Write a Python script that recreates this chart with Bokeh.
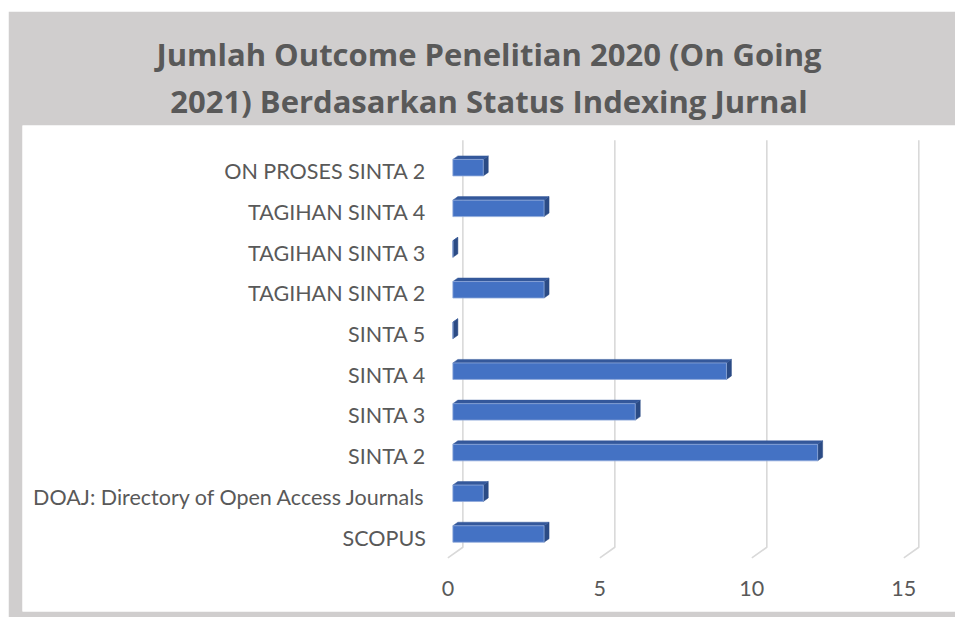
from bokeh.plotting import figure
from bokeh.models import Range1d, Title, ColumnDataSource
from bokeh.core.properties import value
from bokeh.embed import file_html
from bokeh.resources import INLINE

# ---- data ----
CATEGORIES = ["SCOPUS", "DOAJ: Directory of Open Access Journals", "SINTA 2", "SINTA 3",
              "SINTA 4", "SINTA 5", "TAGIHAN SINTA 2", "TAGIHAN SINTA 3",
              "TAGIHAN SINTA 4", "ON PROSES SINTA 2"]
VALUES = [3, 1, 12, 6, 9, 0, 3, 0, 3, 1]
X_TICKS = [0, 5, 10, 15]
TITLE_LINE1 = "Jumlah Outcome Penelitian 2020 (On Going"
TITLE_LINE2 = "2021) Berdasarkan Status Indexing Jurnal"

# ---- style ----
FONT = "Lato"
TITLE_FONT = "Open Sans"
TEXT_COLOR = "#595959"
PANEL_GRAY = "#d0cece"
GRID_COLOR = "#d9d9d9"
FRONT = "#4472c4"
TOPC = "#34589b"
SIDE = "#2b4b85"
DX = 0.493   # depth of the 3D box, value units
DY = 0.26    # depth of the 3D box, category units
H = 0.405    # bar thickness, category units

p = figure(width=947, height=606, margin=(11, 0, 0, 8), title=None,
           output_backend="svg", toolbar_location=None,
           x_axis_location=None, y_axis_location=None,
           x_range=Range1d(-13.994, 16.70), y_range=Range1d(-1.818, 10.123),
           min_border_left=14, min_border_right=0, min_border_top=114, min_border_bottom=6)
p.background_fill_color = "white"
p.border_fill_color = PANEL_GRAY
p.outline_line_color = None
p.xgrid.visible = False
p.ygrid.visible = False

t2 = Title(text=TITLE_LINE2, align="center", text_font=TITLE_FONT, text_font_size="31px",
           text_font_style="bold", text_color=TEXT_COLOR, standoff=7)
p.add_layout(t2, "above")
t1 = Title(text=TITLE_LINE1, align="center", text_font=TITLE_FONT, text_font_size="31px",
           text_font_style="bold", text_color=TEXT_COLOR, standoff=0)
p.add_layout(t1, "above")

# 3D gridlines (back wall + floor diagonal)
top_y = len(CATEGORIES) - 0.5
gxs = [[t + DX, t + DX, t] for t in X_TICKS]
gys = [[top_y + DY, -0.5 + DY, -0.5] for t in X_TICKS]
p.multi_line(xs=gxs, ys=gys, line_color=GRID_COLOR, line_width=1.6)

# bars
idx = list(range(len(CATEGORIES)))
l0 = DX / 3
ox, oy = DX / 3, DY / 3
fl, fr, fb, ft = [], [], [], []
top_xs, top_ys, side_xs, side_ys = [], [], [], []
for i, v in zip(idx, VALUES):
    left = l0
    right = l0 + v
    bottom = i + oy - H / 2
    top = i + oy + H / 2
    fl.append(left); fr.append(right); fb.append(bottom); ft.append(top)
    top_xs.append([left, right, right + ox, left + ox])
    top_ys.append([top, top, top + oy, top + oy])
    side_xs.append([right, right, right + ox, right + ox])
    side_ys.append([bottom, top, top + oy, bottom + oy])

p.patches(xs=side_xs, ys=side_ys, fill_color=SIDE, line_color=SIDE, line_width=0.5)
p.patches(xs=top_xs, ys=top_ys, fill_color=TOPC, line_color=TOPC, line_width=0.5)
p.quad(left=fl, right=fr, bottom=fb, top=ft, fill_color=FRONT, line_color="#8fa9da",
       line_width=0.8)

# category labels
src = ColumnDataSource(dict(x=[0] * len(CATEGORIES), y=idx, t=CATEGORIES))
p.text(x="x", y="y", text="t", source=src, x_offset=-22, text_align="right",
       text_baseline="middle", text_font=value(FONT), text_font_size="21.5px",
       text_color=TEXT_COLOR)

# value tick labels
tsrc = ColumnDataSource(dict(x=X_TICKS, y=[-0.5] * len(X_TICKS), t=[str(t) for t in X_TICKS]))
p.text(x="x", y="y", text="t", source=tsrc, y_offset=31, text_align="center",
       text_baseline="middle", text_font=value(FONT), text_font_size="21.5px",
       text_color=TEXT_COLOR)

open("out.html", "w").write(file_html(p, INLINE))
